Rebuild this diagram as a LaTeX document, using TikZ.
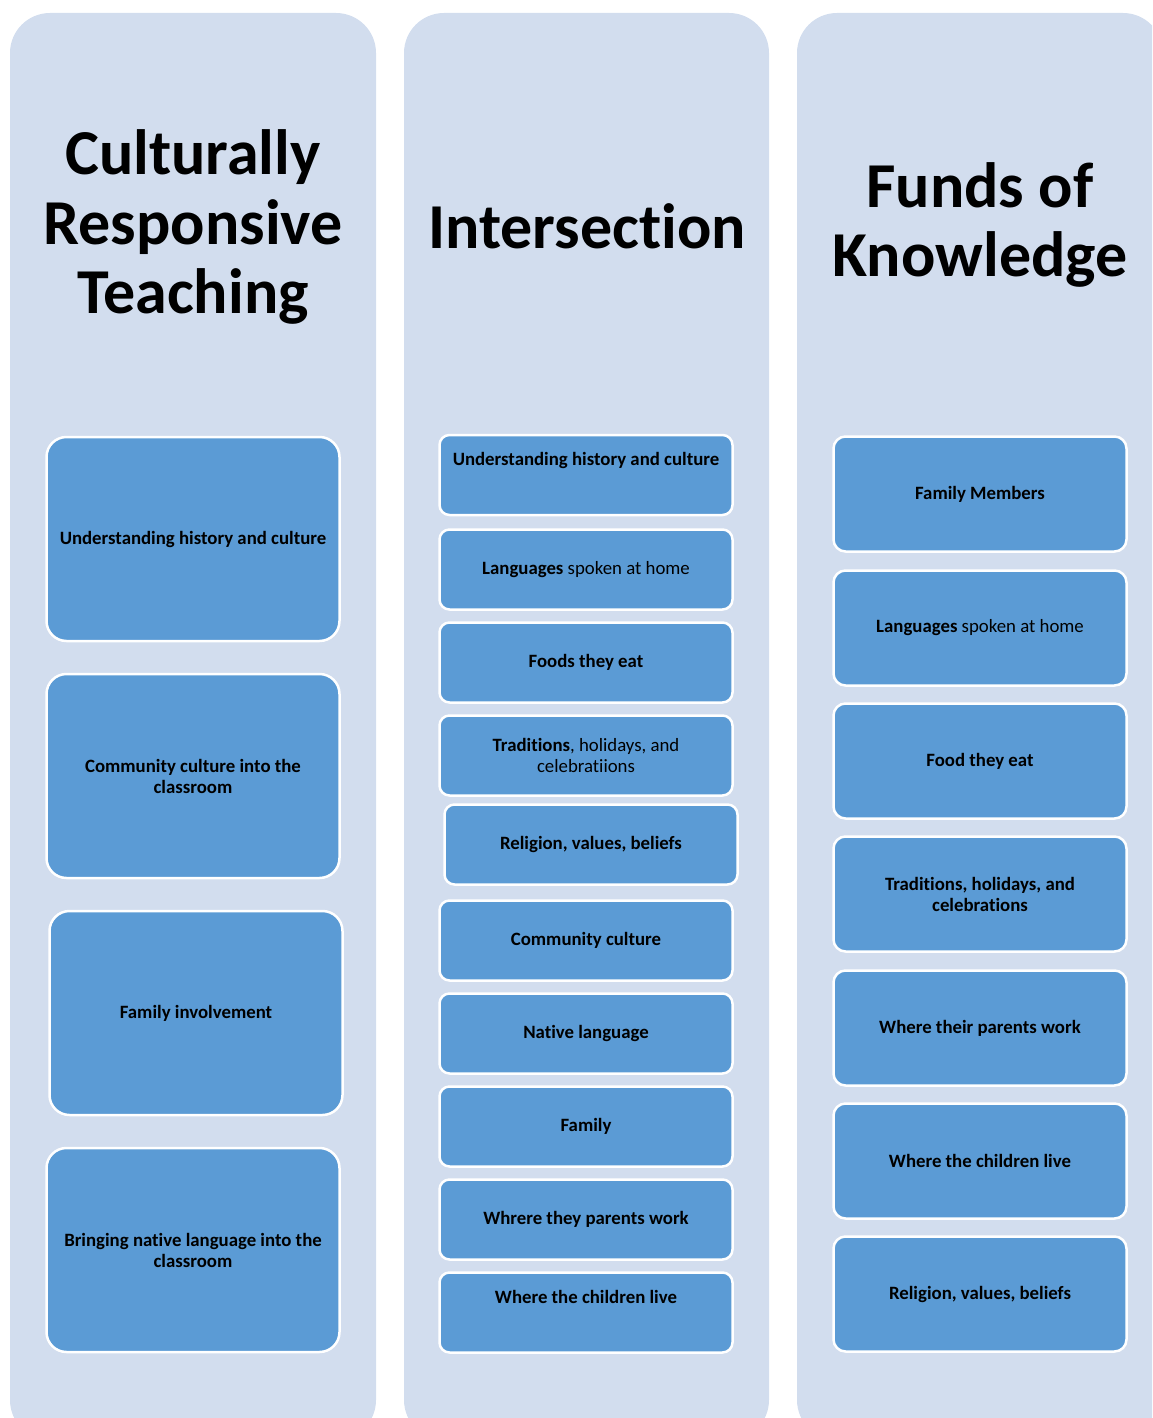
\documentclass[tikz,border=0pt]{standalone}
\usepackage{fontspec}
\setmainfont{Carlito}[Ligatures={NoCommon}]
\definecolor{colbg}{HTML}{D2DDEE}
\definecolor{boxfill}{HTML}{5B9BD5}
\begin{document}
\begin{tikzpicture}[x=1pt,y=-1pt,
  column/.style={fill=colbg, draw=none, rounded corners=40pt},
  title/.style={font=\fontsize{64}{69.5}\selectfont\bfseries, align=center, text=black, inner sep=0pt},
  boxbase/.style={draw=white, line width=2.5pt, fill=boxfill, align=center, inner sep=0pt,
    font=\fontsize{18.8}{21}\selectfont, text=black},
  bigbox/.style={boxbase, rounded corners=20pt, minimum width=293pt, minimum height=204pt},
  midbox/.style={boxbase, rounded corners=10pt, minimum width=293pt, minimum height=80pt},
  fkbox/.style={boxbase, rounded corners=12pt, minimum width=293pt, minimum height=115pt}
]
\useasboundingbox (0,0) rectangle (1152,1418);
\begin{scope}
\clip (0,0) rectangle (1152,1418);
\fill[column] (10,13) rectangle (376,1440);
\fill[column] (404,13) rectangle (769,1440);
\fill[column] (797,13) rectangle (1163,1440);
\end{scope}

% titles
\node[title] (t1) at (193,227) {Culturally\\Responsive\\Teaching};
\node[title] (t2) at (587,226) {Intersection};
\node[title] (t3) at (980,225) {Funds of\\Knowledge};

% column 1
\node[bigbox] (c1a) at (193,539) {\textbf{Understanding history and culture}};
\node[bigbox] (c1b) at (193,776) {\textbf{Community culture into the}\\\textbf{classroom}};
\node[bigbox] (c1c) at (196,1013) {\textbf{Family involvement}};
\node[bigbox] (c1d) at (193,1250) {\textbf{Bringing native language into the}\\\textbf{classroom}};

% column 2
\node[midbox] (c2a) at (586,475) {\raisebox{10pt}[0pt][0pt]{\textbf{Understanding history and culture}}};
\node[midbox] (c2b) at (586,569.5) {\textbf{Languages} spoken at home};
\node[midbox] (c2c) at (586,662.5) {\textbf{Foods they eat}};
\node[midbox] (c2d) at (586,755.5) {\textbf{Traditions}, holidays, and\\celebratiions};
\node[midbox] (c2e) at (591,844.5) {\textbf{Religion, values, beliefs}};
\node[midbox] (c2f) at (586,940.5) {\textbf{Community culture}};
\node[midbox] (c2g) at (586,1033.5) {\textbf{Native language}};
\node[midbox] (c2h) at (586,1126.5) {\textbf{Family}};
\node[midbox] (c2i) at (586,1219.5) {\textbf{Whrere they parents work}};
\node[midbox] (c2j) at (586,1312.5) {\raisebox{9pt}[0pt][0pt]{\textbf{Where the children live}}};

% column 3
\node[fkbox] (c3a) at (980,494) {\textbf{Family Members}};
\node[fkbox] (c3b) at (980,628) {\textbf{Languages} spoken at home};
\node[fkbox] (c3c) at (980,761) {\textbf{Food they eat}};
\node[fkbox] (c3d) at (980,894) {\textbf{Traditions, holidays, and}\\\textbf{celebrations}};
\node[fkbox] (c3e) at (980,1028) {\textbf{Where their parents work}};
\node[fkbox] (c3f) at (980,1161) {\textbf{Where the children live}};
\node[fkbox] (c3g) at (980,1294) {\textbf{Religion, values, beliefs}};
\end{tikzpicture}
\end{document}
